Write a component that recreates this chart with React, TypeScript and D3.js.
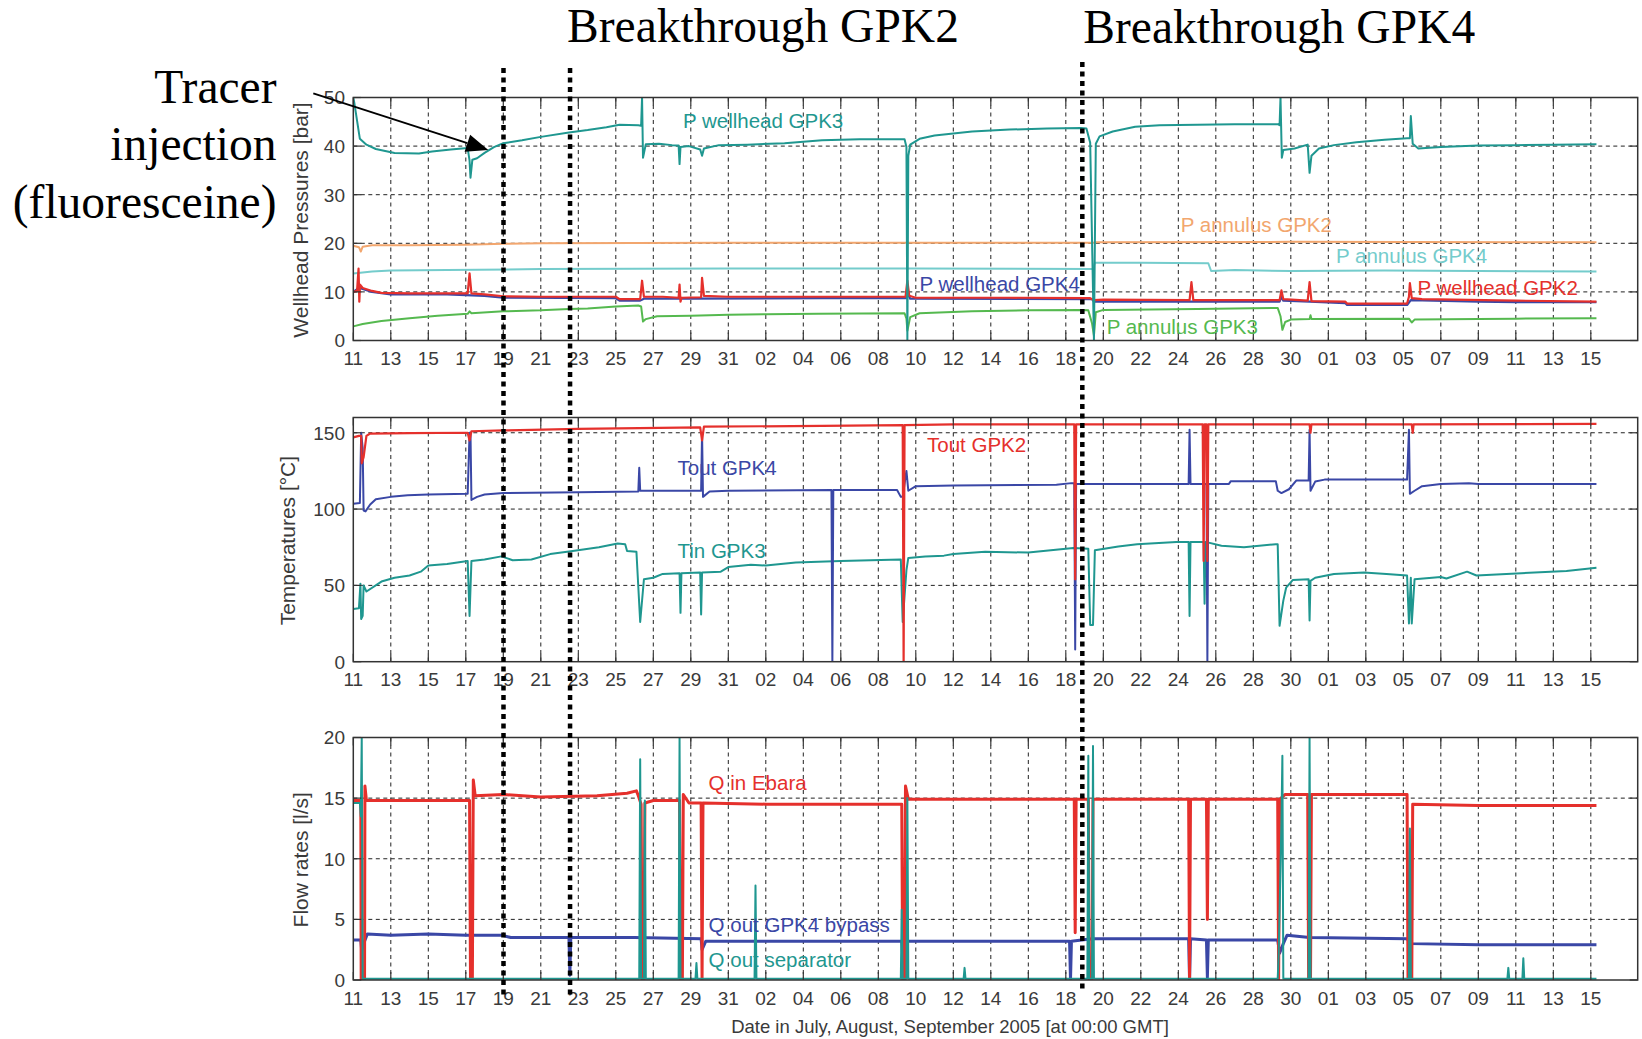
import React from "react";
import * as d3 from "d3";

type Pt = [number, number];

// Time axis: days after 11 July 2005 00:00 GMT
const T0 = Date.UTC(2005, 6, 11);
const DAY_MS = 864e5;
const toDate = (d: number) => new Date(T0 + d * DAY_MS);
const X_END_DAY = 68.5;
const tickDays = d3.range(0, 67, 2);

// ---- Wellhead pressures [bar] ----
const pWellheadGPK3: Pt[] = [
  [0, 50], [0.05, 49], [0.35, 41.5], [0.7, 40.3], [1.2, 39.4], [2.2, 38.6], [3.5, 38.5], [4.2, 38.9],
  [5.2, 39.3], [6.1, 39.6], [6.2, 37], [6.25, 33.5], [6.35, 37.2], [6.6, 37.5], [7.0, 38.6], [7.5, 39.8],
  [8.0, 40.6], [9.0, 41.2], [10.0, 41.9], [11.5, 42.8], [12.5, 43.3], [13.5, 43.9], [14.2, 44.4], [15.2, 44.3],
  [15.35, 44.2], [15.4, 50], [15.45, 37.6], [15.5, 38.5], [15.6, 40.4], [16.3, 40.5], [17.0, 40.2], [17.35, 40.1],
  [17.4, 36.3], [17.45, 39.8], [17.9, 40], [18.5, 39.3], [18.6, 38.0], [18.7, 39.5], [19.5, 40.2], [21, 40.3],
  [23, 40.6], [25, 41.2], [27, 41.4], [29.4, 41.4], [29.5, 39.8], [29.55, 0], [29.6, 38], [29.7, 40.3],
  [30.2, 41.5], [31, 42.2], [33, 43.0], [35, 43.4], [37, 43.6], [38.8, 43.7], [39.1, 43.6], [39.3, 40.7],
  [39.5, 0], [39.6, 40.5], [39.8, 42], [40.5, 43], [41.7, 44], [43, 44.3], [45, 44.4], [47, 44.5],
  [49.3, 44.5], [49.4, 44.3], [49.45, 50], [49.52, 37.6], [49.6, 39.2], [50.2, 39.5], [50.9, 40.3], [51.0, 34.5],
  [51.1, 38], [51.5, 39.5], [52.3, 40.2], [53.5, 40.8], [55, 41.3], [56.2, 41.6], [56.35, 41.6], [56.4, 46.2],
  [56.5, 40.5], [56.8, 39.5], [58, 39.8], [60, 40.1], [62, 40.2], [64, 40.3], [66.3, 40.4],
];
const pAnnulusGPK2: Pt[] = [
  [0, 19.5], [0.3, 19.2], [0.4, 18.3], [0.5, 19.3], [1, 19.6], [3, 19.6], [6, 19.7], [8, 19.9],
  [10, 20.0], [20, 20.1], [39.5, 20.1], [39.6, 20.2], [50, 20.3], [66.3, 20.2],
];
const pAnnulusGPK4: Pt[] = [
  [0, 13.8], [0.5, 14.0], [1, 14.2], [2, 14.4], [5, 14.5], [10, 14.7], [20, 14.8], [30, 14.8],
  [39.45, 14.7], [39.55, 16.0], [42, 16.0], [45.6, 15.9], [45.75, 14.3], [47, 14.5], [50, 14.3], [55, 14.4],
  [60, 14.3], [66.3, 14.2],
];
const pWellheadGPK2: Pt[] = [
  [0, 10], [0.2, 10.2], [0.28, 14.8], [0.32, 8], [0.36, 11.5], [0.5, 10.8], [1.0, 10.2], [1.5, 9.8],
  [3, 9.7], [5, 9.7], [6.1, 9.7], [6.2, 13.8], [6.3, 9.7], [7, 9.5], [8, 9.1], [10, 9.0],
  [14, 9.0], [14.2, 8.5], [15.3, 8.5], [15.4, 12.3], [15.5, 9], [16.5, 9.0], [17.35, 8.8], [17.4, 11.5],
  [17.45, 8], [17.5, 8.8], [18.55, 8.9], [18.6, 12.9], [18.7, 9.2], [20, 9.0], [25, 9.0], [29.45, 9.0],
  [29.55, 12.3], [29.65, 9.2], [30, 8.8], [35, 8.8], [39.3, 8.7], [39.5, 8.3], [40, 8.4], [44.6, 8.3],
  [44.7, 12], [44.8, 8.3], [49.4, 8.3], [49.5, 10.3], [49.6, 8.5], [50.9, 8.2], [51.0, 12], [51.1, 8.1],
  [52.9, 8.0], [53.0, 7.6], [56.2, 7.6], [56.3, 9.0], [56.35, 11.8], [56.45, 8.7], [57, 8.5], [62, 8.2],
  [66.3, 8.0],
];
const pWellheadGPK4: Pt[] = [
  [0, 10], [0.3, 10.8], [0.5, 10.6], [1.0, 10.0], [2, 9.5], [5, 9.5], [7, 9.2], [8, 8.8],
  [14, 8.7], [14.2, 8.2], [15.3, 8.2], [15.5, 8.6], [18, 8.6], [25, 8.7], [29.5, 8.7], [29.6, 9.5],
  [29.7, 8.6], [39.4, 8.5], [39.5, 8.0], [44, 8.0], [49.4, 8.0], [49.5, 9.0], [49.6, 8.2], [51, 8.0],
  [52.9, 7.7], [53, 7.3], [56.2, 7.3], [56.4, 8.3], [60, 8.0], [62, 7.9], [66.3, 7.9],
];
const pAnnulusGPK3: Pt[] = [
  [0, 2.9], [0.5, 3.4], [1.5, 4.0], [3, 4.6], [4.5, 5.1], [6.1, 5.5], [6.2, 6], [6.3, 5.6],
  [8, 6.0], [10, 6.2], [11.5, 6.5], [12.5, 6.6], [14, 7.0], [15.2, 7.2], [15.35, 7.0], [15.45, 3.9],
  [15.6, 4.4], [16.2, 5.0], [18, 5.1], [20, 5.3], [22, 5.4], [24.8, 5.5], [29.4, 5.6], [29.5, 4.5],
  [29.55, 2.0], [29.7, 4.8], [30.2, 5.6], [33, 6.0], [36, 6.2], [38.8, 6.3], [39.2, 6.2], [39.4, 3.5],
  [39.5, 1.0], [39.6, 5.8], [40, 6.3], [45, 6.5], [49.3, 6.7], [49.45, 5], [49.55, 2.2], [49.7, 3.8],
  [50, 4.3], [51.0, 4.4], [51.05, 5.2], [51.1, 4.4], [56.3, 4.5], [56.45, 3.7], [56.6, 4.3], [60, 4.4],
  [62, 4.5], [66.3, 4.6],
];

// ---- Temperatures [°C] ----
const toutGPK2: Pt[] = [
  [0, 147], [0.3, 148], [0.42, 148], [0.45, 130], [0.55, 134], [0.7, 148], [0.9, 149.5], [3, 149.8],
  [6.1, 150], [6.2, 145], [6.3, 151], [8, 151.5], [12, 152.5], [18.5, 153.5], [18.6, 145], [18.7, 154],
  [25, 154.5], [29.3, 155], [29.35, 0], [29.4, 155], [32, 155.5], [38.45, 155.5], [38.5, 54], [38.55, 155.5],
  [45.3, 155.5], [45.35, 66], [45.4, 155.5], [45.5, 155.5], [45.55, 66], [45.6, 155.5], [51.0, 155.5], [51.05, 150],
  [51.1, 155.5], [56.45, 155.5], [56.5, 150], [56.55, 155.5], [66.3, 155.8],
];
const toutGPK4: Pt[] = [
  [0, 103.5], [0.35, 104], [0.42, 150], [0.5, 140], [0.55, 99], [0.65, 98.5], [0.9, 103], [1.2, 106.5],
  [2, 108], [2.9, 109], [4, 109.5], [6.1, 110], [6.2, 150], [6.25, 150], [6.3, 106], [6.6, 108],
  [7, 109.5], [8, 110.5], [12, 111], [15.2, 111.5], [15.25, 127], [15.3, 112], [18.55, 112], [18.6, 150],
  [18.65, 108], [19, 111.5], [20, 112], [25.5, 112.5], [25.55, 0], [25.6, 112.5], [29.0, 112.5], [29.2, 108],
  [29.3, 108], [29.5, 125], [29.6, 112], [30, 115], [32, 115.5], [37.5, 116], [38.3, 117], [38.45, 117],
  [38.5, 8], [38.55, 116.5], [44.55, 116.5], [44.6, 152], [44.65, 116.5], [45.5, 116.5], [45.55, 0], [45.6, 116.5],
  [46.7, 116.5], [46.8, 118.3], [49.2, 118.3], [49.3, 112], [49.5, 110.5], [49.9, 113], [50.3, 118.8], [50.95, 118.8],
  [51.0, 152], [51.05, 112], [51.3, 118], [51.8, 119.3], [56.2, 119.3], [56.3, 152], [56.35, 110], [56.6, 112],
  [57, 115], [58, 116.5], [59.5, 117], [60, 116.5], [66.3, 116.5],
];
const tinGPK3: Pt[] = [
  [0, 34.5], [0.3, 35], [0.38, 51], [0.42, 28], [0.5, 30], [0.55, 50], [0.7, 46], [1.5, 52.5],
  [2.2, 55], [3, 56.5], [3.6, 59], [4, 63], [5, 64], [6.1, 66], [6.2, 30], [6.3, 66],
  [7, 67], [7.9, 69], [8.5, 66.5], [9.5, 67], [10.5, 70.5], [11.7, 72.5], [13.1, 75], [14.1, 77.5],
  [14.5, 77], [14.6, 72.5], [15.1, 72], [15.3, 26], [15.5, 54], [16.0, 55], [16.5, 57.5], [17.4, 58],
  [17.45, 32], [17.5, 58], [18.5, 58.5], [18.55, 31], [18.6, 58.5], [19.6, 59], [20, 62], [21.2, 63.5],
  [22, 63], [23.6, 65], [26, 66], [29.2, 67], [29.3, 26], [29.5, 60], [29.6, 68], [30.5, 69],
  [31.5, 69.5], [32, 70.5], [33.7, 72], [36, 71.5], [38.4, 74.5], [39.2, 74], [39.3, 24], [39.45, 24],
  [39.55, 73], [40.8, 75.5], [41.8, 77], [43.9, 78.5], [44.55, 78.5], [44.6, 30], [44.65, 78.5], [45.35, 78.5],
  [45.4, 38], [45.45, 78.5], [46.3, 76], [47.5, 75], [49.2, 77], [49.3, 77], [49.4, 23.5], [49.6, 40],
  [49.75, 48.5], [50.1, 53.5], [50.95, 54], [51.0, 27], [51.05, 53], [51.3, 55], [52.3, 57.5], [53.9, 58.5],
  [55.1, 57.5], [56.2, 56.5], [56.3, 25], [56.4, 55], [56.45, 25], [56.6, 54], [58, 55.5], [58.3, 54.5],
  [59.4, 59], [59.9, 56.5], [62.3, 58], [64.7, 59.5], [66.3, 61.5],
];

// ---- Flow rates [l/s] ----
const qInEbara: Pt[] = [
  [0, 14.8], [0.4, 14.8], [0.42, 0], [0.6, 0], [0.62, 16], [0.7, 14.8], [6.2, 14.8], [6.25, 0],
  [6.35, 0], [6.4, 16.5], [6.5, 15.2], [8, 15.3], [10, 15.1], [13, 15.2], [14.6, 15.4], [15.1, 15.6],
  [15.2, 15.2], [15.35, 14.5], [15.4, 0], [15.5, 0], [15.55, 14.6], [16, 14.8], [17.4, 14.8], [17.45, 0],
  [17.55, 0], [17.6, 15.3], [17.9, 14.6], [18.55, 14.6], [18.6, 0], [18.65, 14.6], [22, 14.5], [27, 14.5],
  [29.25, 14.5], [29.3, 0], [29.4, 0], [29.45, 16], [29.6, 14.9], [35, 14.9], [38.45, 14.9], [38.5, 3.9],
  [38.55, 14.9], [39.2, 14.9], [39.25, 0], [39.4, 0], [39.45, 14.9], [44.55, 14.9], [44.6, 0], [44.65, 14.9],
  [45.5, 14.9], [45.55, 5], [45.6, 14.9], [49.3, 14.9], [49.35, 0], [49.4, 14.9], [49.7, 15.3], [50.9, 15.3],
  [50.95, 0], [51.05, 0], [51.1, 15.3], [56.2, 15.3], [56.25, 0], [56.45, 0], [56.5, 14.5], [60, 14.4],
  [66.3, 14.4],
];
const qOutGPK4Bypass: Pt[] = [
  [0, 3.3], [0.4, 3.3], [0.45, 2.4], [0.55, 3.0], [0.75, 3.8], [2, 3.7], [4, 3.8], [6, 3.7],
  [7.9, 3.7], [8.4, 3.5], [11.5, 3.5], [11.55, 0.4], [11.6, 3.5], [15, 3.5], [18.55, 3.4], [18.6, 2.5],
  [18.8, 3.2], [22, 3.2], [29.25, 3.2], [29.3, 2.0], [29.5, 3.2], [32, 3.2], [38.2, 3.2], [38.25, 0],
  [38.3, 3.2], [39.4, 3.4], [44.55, 3.4], [44.6, 0], [44.65, 3.4], [45.5, 3.3], [45.55, 0.2], [45.6, 3.3],
  [49.3, 3.3], [49.4, 2.2], [49.6, 3.0], [49.8, 3.7], [51, 3.5], [56.2, 3.4], [56.4, 3.0], [60, 2.9],
  [66.3, 2.9],
];
const qOutSeparator: Pt[] = [
  [0, 14.6], [0.35, 14.6], [0.4, 13.5], [0.45, 20], [0.5, 0.1], [15.25, 0.1], [15.3, 18.2], [15.35, 0.1],
  [15.5, 0.1], [15.55, 14.8], [15.6, 0.1], [17.35, 0.1], [17.4, 20], [17.45, 0.1], [18.25, 0.1], [18.3, 1.4],
  [18.35, 0.1], [21.4, 0.1], [21.45, 7.8], [21.5, 0.1], [29.2, 0.1], [29.25, 5.8], [29.3, 0.1], [29.5, 0.1],
  [29.55, 15], [29.6, 0.1], [32.55, 0.1], [32.6, 1], [32.65, 0.1], [39.15, 0.1], [39.2, 18.5], [39.25, 0.1],
  [39.4, 0.1], [39.45, 19.3], [39.5, 0.1], [49.3, 0.1], [49.35, 2], [49.5, 13], [49.55, 18.5], [49.6, 0.1],
  [50.95, 0.1], [51.0, 20], [51.05, 0.1], [56.3, 0.1], [56.35, 12.5], [56.4, 0.1], [61.55, 0.1], [61.6, 1.0],
  [61.65, 0.1], [62.35, 0.1], [62.4, 1.8], [62.45, 0.1], [66.3, 0.1],
];

// Axis ticks
const pressureTicks = [0, 10, 20, 30, 40, 50];
const temperatureTicks = [0, 50, 100, 150];
const flowTicks = [0, 5, 10, 15, 20];

// Event markers (days after 11 July): tracer injection, breakthrough GPK2, breakthrough GPK4
const eventDays = [8.01, 11.56, 38.88];

const C = {
  teal: "#1f9790",
  cyan: "#74cccc",
  orange: "#f2a66e",
  red: "#e5302c",
  blue: "#3a47a6",
  green: "#55b94f",
  axis: "#333",
  text: "#3a3a3a",
};

type Series = { data: Pt[]; color: string; width: number };
type Label = { text: string; day: number; value: number; color: string };
type PanelDef = {
  top: number;
  bottom: number;
  yMax: number;
  yTicks: number[];
  title: string;
  titleX: number;
  series: Series[];
  labels: Label[];
};

const panels: PanelDef[] = [
  {
    top: 97.5,
    bottom: 340.5,
    yMax: 50,
    yTicks: pressureTicks,
    title: "Wellhead Pressures [bar]",
    titleX: 300,
    series: [
      { data: pAnnulusGPK2, color: C.orange, width: 2 },
      { data: pAnnulusGPK4, color: C.cyan, width: 2 },
      { data: pWellheadGPK4, color: C.blue, width: 2.2 },
      { data: pWellheadGPK2, color: C.red, width: 2.2 },
      { data: pAnnulusGPK3, color: C.green, width: 2 },
      { data: pWellheadGPK3, color: C.teal, width: 2 },
    ],
    labels: [
      { text: "P wellhead GPK3", day: 17.58, value: 43.8, color: C.teal },
      { text: "P annulus GPK2", day: 44.13, value: 22.4, color: C.orange },
      { text: "P annulus GPK4", day: 52.41, value: 15.95, color: C.cyan },
      { text: "P wellhead GPK4", day: 30.2, value: 10.19, color: C.blue },
      { text: "P wellhead GPK2", day: 56.76, value: 9.36, color: C.red },
      { text: "P annulus GPK3", day: 40.18, value: 1.34, color: C.green },
    ],
  },
  {
    top: 417.5,
    bottom: 661.7,
    yMax: 160,
    yTicks: temperatureTicks,
    title: "Temperatures [°C]",
    titleX: 287,
    series: [
      { data: tinGPK3, color: C.teal, width: 2 },
      { data: toutGPK4, color: C.blue, width: 2 },
      { data: toutGPK2, color: C.red, width: 2.2 },
    ],
    labels: [
      { text: "Tout GPK2", day: 30.6, value: 137.7, color: C.red },
      { text: "Tout GPK4", day: 17.29, value: 122.6, color: C.blue },
      { text: "Tin GPK3", day: 17.29, value: 67.9, color: C.teal },
    ],
  },
  {
    top: 737.5,
    bottom: 980,
    yMax: 20,
    yTicks: flowTicks,
    title: "Flow rates [l/s]",
    titleX: 300,
    series: [
      { data: qOutGPK4Bypass, color: C.blue, width: 3 },
      { data: qInEbara, color: C.red, width: 3 },
      { data: qOutSeparator, color: C.teal, width: 2 },
    ],
    labels: [
      { text: "Q in Ebara", day: 18.95, value: 15.67, color: C.red },
      { text: "Q out GPK4 bypass", day: 18.95, value: 4.0, color: C.blue },
      { text: "Q out separator", day: 18.95, value: 1.11, color: C.teal },
    ],
  },
];

const x = d3.scaleUtc().domain([toDate(0), toDate(X_END_DAY)]).range([353.3, 1637.7]);
const fmtDay = d3.utcFormat("%d");
const SANS = "'Liberation Sans', Arial, Helvetica, sans-serif";
const SERIF = "'Liberation Serif', 'Times New Roman', Times, serif";

function Panel({ p, idx }: { p: PanelDef; idx: number }) {
  const y = d3.scaleLinear().domain([0, p.yMax]).range([p.bottom, p.top]);
  const [x0, x1] = x.range();
  const line = d3
    .line<Pt>()
    .x((d) => x(toDate(d[0])))
    .y((d) => y(d[1]));
  const TL = 8;
  const clipId = `plot-clip-${idx}`;
  return (
    <g>
      <defs>
        <clipPath id={clipId}>
          <rect x={x0} y={p.top} width={x1 - x0} height={p.bottom - p.top} />
        </clipPath>
      </defs>
      {/* grid */}
      {tickDays
        .filter((d) => d > 0)
        .map((d) => (
          <line
            key={`gx${d}`}
            x1={x(toDate(d))}
            x2={x(toDate(d))}
            y1={p.top}
            y2={p.bottom}
            stroke="#222"
            strokeWidth={1}
            strokeDasharray="4,3.5"
          />
        ))}
      {p.yTicks
        .filter((v) => v > 0 && v < p.yMax)
        .map((v) => (
          <line
            key={`gy${v}`}
            x1={x0}
            x2={x1}
            y1={y(v)}
            y2={y(v)}
            stroke="#222"
            strokeWidth={1}
            strokeDasharray="4,3.5"
          />
        ))}
      {/* data */}
      <g clipPath={`url(#${clipId})`}>
        {p.series.map((s, i) => (
          <path
            key={i}
            d={line(s.data) || ""}
            fill="none"
            stroke={s.color}
            strokeWidth={s.width}
            strokeLinejoin="round"
          />
        ))}
      </g>
      {/* tick marks */}
      {tickDays.map((d) => (
        <g key={`tx${d}`} stroke={C.axis} strokeWidth={1.2}>
          <line x1={x(toDate(d))} x2={x(toDate(d))} y1={p.bottom} y2={p.bottom - TL} />
          <line x1={x(toDate(d))} x2={x(toDate(d))} y1={p.top} y2={p.top + TL} />
        </g>
      ))}
      {p.yTicks.map((v) => (
        <g key={`ty${v}`} stroke={C.axis} strokeWidth={1.2}>
          <line x1={x0} x2={x0 + TL} y1={y(v)} y2={y(v)} />
          <line x1={x1} x2={x1 - TL} y1={y(v)} y2={y(v)} />
        </g>
      ))}
      <rect
        x={x0}
        y={p.top}
        width={x1 - x0}
        height={p.bottom - p.top}
        fill="none"
        stroke={C.axis}
        strokeWidth={1.5}
      />
      {/* series labels */}
      {p.labels.map((l) => (
        <text
          key={l.text}
          x={x(toDate(l.day))}
          y={y(l.value)}
          fill={l.color}
          fontSize={20.5}
          fontFamily={SANS}
        >
          {l.text}
        </text>
      ))}
      {/* tick labels */}
      {tickDays.map((d) => (
        <text
          key={`lx${d}`}
          x={x(toDate(d))}
          y={p.bottom + 24.5}
          textAnchor="middle"
          fontSize={19}
          fill={C.text}
          fontFamily={SANS}
        >
          {fmtDay(toDate(d))}
        </text>
      ))}
      {p.yTicks.map((v) => (
        <text
          key={`ly${v}`}
          x={345}
          y={y(v)}
          dy="0.36em"
          textAnchor="end"
          fontSize={19}
          fill={C.text}
          fontFamily={SANS}
        >
          {v}
        </text>
      ))}
      <text
        transform={`translate(${p.titleX + 7.5},${(p.top + p.bottom) / 2 + 1}) rotate(-90)`}
        textAnchor="middle"
        fontSize={21}
        fill={C.text}
        fontFamily={SANS}
      >
        {p.title}
      </text>
    </g>
  );
}

export default function App() {
  const top = panels[0];
  const yTop = d3.scaleLinear().domain([0, top.yMax]).range([top.bottom, top.top]);

  // tracer injection arrow, pointing at the pressure curve
  const tip: [number, number] = [x(toDate(7.2)), yTop(39.2)];
  const tail: [number, number] = [313.3, 93.3];
  const dx = tip[0] - tail[0];
  const dy = tip[1] - tail[1];
  const len = Math.hypot(dx, dy);
  const ux = dx / len;
  const uy = dy / len;
  const headL = 22;
  const headW = 9;
  const bx = tip[0] - ux * headL;
  const by = tip[1] - uy * headL;
  const head = [
    [tip[0], tip[1]],
    [bx - uy * headW, by + ux * headW],
    [bx + uy * headW, by - ux * headW],
  ]
    .map((q) => q.join(","))
    .join(" ");

  const eventSpans = [
    [68, 997],
    [68, 997],
    [62, 990],
  ];

  return (
    <svg
      width={1642}
      height={1039}
      style={{ position: "absolute", left: 0, top: 0, background: "#fff" }}
    >
      <rect x={0} y={0} width={1642} height={1039} fill="#fff" />
      {panels.map((p, i) => (
        <Panel key={i} p={p} idx={i} />
      ))}
      <text
        x={950}
        y={1032.5}
        textAnchor="middle"
        fontSize={18.5}
        fill={C.text}
        fontFamily={SANS}
      >
        Date in July, August, September 2005 [at 00:00 GMT]
      </text>

      {/* event markers */}
      {eventDays.map((d, i) => (
        <line
          key={`ev${i}`}
          x1={x(toDate(d))}
          x2={x(toDate(d))}
          y1={eventSpans[i][0]}
          y2={eventSpans[i][1]}
          stroke="#000"
          strokeWidth={4.5}
          strokeDasharray="5,4.5"
        />
      ))}

      {/* annotations */}
      <g fontFamily={SERIF} fontSize={47.5} fill="#000">
        <text x={x(toDate(eventDays[1])) - 3} y={42}>
          Breakthrough GPK2
        </text>
        <text x={x(toDate(eventDays[2])) + 1} y={43.3}>
          Breakthrough GPK4
        </text>
        <text x={276.5} y={103} textAnchor="end">
          Tracer
        </text>
        <text x={276.5} y={160} textAnchor="end">
          injection
        </text>
        <text x={276.5} y={218} textAnchor="end">
          (fluoresceine)
        </text>
      </g>
      <line x1={tail[0]} y1={tail[1]} x2={bx} y2={by} stroke="#000" strokeWidth={1.8} />
      <polygon points={head} fill="#000" />
    </svg>
  );
}
